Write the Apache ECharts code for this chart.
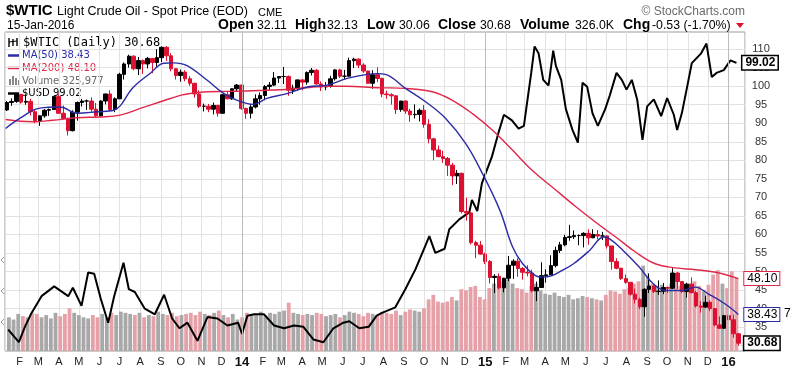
<!DOCTYPE html>
<html><head><meta charset="utf-8">
<script src="https://cdn.jsdelivr.net/npm/echarts@6/dist/echarts.min.js"></script>
<style>html,body{margin:0;padding:0;background:#fff}#c{width:800px;height:369px}</style>
</head><body><div id="c"></div>
<script>
// ---- DATA (weekly bars, Wednesday of each week, starting 16-Jan-2013) ----
const firstWeek = [2013, 0, 16];
const opens = [
93.6,95.6,95.9,97.8,95.7,95.9,93.1,90.7,92.0,93.5,93.7,97.2,92.7,91.3,88.0,93.0,95.6,96.0,96.0,93.8,92.0,96.0,97.9,93.7,96.6,103.2,106.0,108.1,104.7,106.9,106.0,107.5,106.4,107.7,110.5,108.2,104.7,102.9,103.8,102.0,100.8,97.9,94.6,94.6,93.8,94.8,92.7,97.7,96.6,99.3,100.3,
94.0,92.7,94.4,96.6,97.5,99.9,100.3,102.2,102.6,102.6,98.9,99.5,101.7,101.1,103.7,104.3,100.6,99.8,100.0,102.0,104.4,102.7,102.7,106.9,107.3,105.7,104.1,100.8,103.1,102.1,97.9,97.7,97.4,93.7,96.0,93.3,92.3,92.4,93.5,89.7,85.8,82.8,81.0,80.5,78.7,75.8,76.5,66.2,65.8,57.8,57.1,54.7,
52.7,48.4,48.7,45.6,48.2,51.7,52.8,50.8,49.8,49.6,44.8,45.7,48.9,49.1,51.6,55.7,57.2,59.2,59.4,59.7,59.7,60.3,59.1,60.0,59.6,59.6,56.9,52.7,50.9,48.1,47.1,43.9,42.5,40.5,45.2,46.1,44.6,44.7,45.7,45.5,49.6,47.3,44.6,46.6,44.3,40.7,40.4,41.7,40.0,35.6,34.7,38.1,
37.0,33.2];
const highs = [
96.0,96.7,98.2,97.9,97.8,96.6,93.6,92.2,93.8,94.0,97.4,97.8,94.8,91.5,93.5,95.9,96.6,96.4,97.0,95.5,96.2,98.0,98.9,97.0,103.6,106.4,108.5,108.3,107.9,107.2,107.9,107.5,110.0,110.7,110.8,108.9,104.9,104.5,104.3,102.7,100.9,98.9,95.3,95.2,95.6,95.0,97.9,98.6,99.4,100.6,100.4,
94.2,94.9,97.8,98.3,100.3,101.1,103.8,102.6,105.2,102.9,100.4,101.8,101.9,104.0,104.9,104.6,101.3,101.1,102.8,104.6,104.7,104.4,107.7,107.7,107.5,106.2,104.1,104.3,105.1,102.3,98.8,98.1,97.6,96.0,96.1,93.9,95.1,94.0,94.9,91.1,86.1,84.0,82.6,80.9,79.3,77.4,76.7,69.9,66.0,58.3,58.2,55.1,
53.1,49.3,49.5,48.3,54.2,53.3,53.6,51.2,51.7,50.5,47.3,52.5,50.6,54.4,56.7,58.0,59.9,62.6,61.1,60.0,60.6,61.4,61.4,61.2,60.7,59.7,56.9,53.6,51.0,49.2,47.1,45.4,42.9,45.5,49.5,46.3,47.6,46.9,46.0,50.9,49.9,47.4,47.0,48.4,44.8,42.0,43.5,42.2,40.0,37.9,38.3,38.4,
38.4,33.3];
const lows = [
93.3,94.7,95.5,95.3,95.0,92.1,90.0,89.3,91.5,92.0,93.6,92.5,91.0,86.7,87.8,90.7,94.5,93.6,93.0,91.5,91.8,95.1,93.3,93.0,96.5,101.8,105.0,104.3,103.0,103.3,104.8,103.5,105.0,106.5,106.8,104.0,101.8,101.2,101.3,100.1,96.9,94.1,93.2,93.0,92.4,91.8,92.5,96.5,96.3,98.7,93.6,
91.2,91.3,94.0,95.0,96.2,99.0,100.0,100.9,100.6,97.4,97.9,99.0,98.9,100.4,102.9,100.5,98.7,98.9,99.6,101.5,102.2,101.9,102.6,104.9,104.9,103.6,100.7,99.3,101.1,97.0,96.6,95.0,92.5,93.1,92.5,90.4,91.3,90.5,88.8,84.6,80.0,80.8,79.3,75.8,73.3,73.6,65.7,63.7,57.3,53.6,54.5,52.0,
46.8,44.2,45.2,44.4,47.4,48.0,48.6,47.8,48.7,44.4,42.0,45.7,47.0,49.1,51.1,55.0,56.8,58.3,58.8,57.1,56.5,57.2,59.0,58.7,58.5,56.2,50.5,50.6,47.7,46.7,43.5,41.4,39.9,37.8,44.2,44.2,43.7,43.9,44.2,45.3,45.3,44.2,43.0,44.1,40.3,38.9,40.2,39.3,35.2,34.5,34.5,36.0,
32.1,30.0];
const closes = [
95.6,95.9,97.8,95.7,95.9,93.1,90.7,92.0,93.5,93.7,97.2,92.7,91.3,88.0,93.0,95.6,96.0,96.0,93.8,92.0,96.0,97.9,93.7,96.6,103.2,106.0,108.1,104.7,106.9,106.0,107.5,106.4,107.7,110.5,108.2,104.7,102.9,103.8,102.0,100.8,97.9,94.6,94.6,93.8,94.8,92.7,97.7,96.6,99.3,100.3,94.0,
92.7,94.4,96.6,97.5,99.9,100.3,102.2,102.6,102.6,98.9,99.5,101.7,101.1,103.7,104.3,100.6,99.8,100.0,102.0,104.4,102.7,102.7,106.9,107.3,105.7,104.1,100.8,103.1,102.1,97.9,97.7,97.4,93.7,96.0,93.3,92.3,92.4,93.5,89.7,85.8,82.8,81.0,80.5,78.7,75.8,76.5,66.2,65.8,57.8,57.1,54.7,52.7,
48.4,48.7,45.6,48.2,51.7,52.8,50.8,49.8,49.6,44.8,45.7,48.9,49.1,51.6,55.7,57.2,59.2,59.4,59.7,59.7,60.3,59.1,60.0,59.6,59.6,56.9,52.7,50.9,48.1,47.1,43.9,42.5,40.5,45.2,46.1,44.6,44.7,45.7,45.5,49.6,47.3,44.6,46.6,44.3,40.7,40.4,41.7,40.0,35.6,34.7,38.1,37.0,
33.2,30.68];
const volumes = [ // thousands
150,140,165,155,150,170,165,150,160,145,170,155,165,190,170,160,150,145,160,150,165,150,170,160,175,170,165,160,170,150,160,155,175,165,160,170,155,160,165,170,160,175,165,160,170,180,160,150,165,140,150,
170,160,165,175,160,170,165,175,180,215,170,165,160,165,160,170,165,155,160,165,150,160,175,170,165,155,170,165,160,175,170,165,180,160,175,185,180,175,190,230,250,220,215,220,240,225,275,270,285,290,240,230,
280,300,290,310,320,300,280,275,260,290,300,270,255,250,260,245,240,250,230,235,245,240,235,230,225,250,270,265,255,275,280,300,310,380,330,300,290,295,285,300,310,290,295,300,310,290,270,295,340,360,300,280,
355,326];
const ma50 = [
['2013-01-14',88.6],['2013-02-04',91.3],['2013-03-06',94.1],['2013-04-05',94.4],['2013-05-01',92.7],['2013-05-31',93.1],['2013-06-24',93.5],['2013-07-24',99.8],['2013-08-18',103.5],['2013-09-07',106.2],['2013-09-22',106.3],['2013-10-11',105.6],['2013-11-11',101.6],['2013-12-06',98.0],['2013-12-26',96.2],
['2014-01-19',95.1],['2014-02-08',96.7],['2014-03-10',98.0],['2014-04-09',99.8],['2014-05-09',100.3],['2014-06-08',102.1],['2014-07-08',103.2],['2014-07-23',103.4],['2014-08-04',103.2],['2014-09-03',99.4],['2014-10-03',95.8],['2014-11-02',91.3],['2014-12-02',84.5],['2014-12-27',76.4],
['2015-01-22',66.5],['2015-02-10',56.6],['2015-02-25',52.1],['2015-03-16',48.9],['2015-03-26',48.5],['2015-04-10',48.9],['2015-04-25',50.3],['2015-05-12',52.1],['2015-06-05',55.7],['2015-06-26',59.3],['2015-07-05',58.8],['2015-07-25',55.7],['2015-08-18',51.2],['2015-09-08',46.7],['2015-09-27',44.9],['2015-10-22',44.9],['2015-11-10',45.8],['2015-11-29',44.0],['2015-12-24',41.3],['2016-01-13',38.43]];
const ma200 = [
['2013-01-14',91.0],['2013-02-24',90.4],['2013-03-25',90.8],['2013-05-01',91.5],['2013-06-04',91.7],['2013-07-04',92.2],['2013-08-03',94.0],['2013-09-02',95.8],['2013-10-03',97.6],['2013-10-15',98.0],['2013-11-11',98.5],['2013-12-11',98.6],
['2014-01-08',98.7],['2014-02-07',98.9],['2014-03-09',99.1],['2014-04-08',99.6],['2014-05-08',100.0],['2014-06-07',100.0],['2014-07-23',99.6],['2014-09-03',99.4],['2014-10-13',98.5],['2014-11-12',96.2],['2014-12-12',92.6],
['2015-01-11',88.1],['2015-02-10',82.7],['2015-03-11',77.3],['2015-04-10',72.8],['2015-05-16',67.4],['2015-06-14',63.3],['2015-07-14',59.3],['2015-08-13',55.2],['2015-09-11',52.1],['2015-10-11',51.0],['2015-11-10',50.5],['2015-12-10',49.8],['2016-01-13',48.10]];
const usd = [
['2013-01-15',79.9],['2013-01-31',79.0],['2013-02-09',80.1],['2013-02-19',81.1],['2013-03-06',82.3],['2013-03-25',83.0],['2013-04-15',82.3],['2013-04-22',82.9],['2013-05-05',81.6],['2013-05-15',84.0],['2013-05-24',83.9],['2013-06-03',82.1],['2013-06-14',80.4],['2013-06-23',82.3],['2013-07-07',84.7],['2013-07-15',82.8],['2013-07-24',82.6],['2013-08-08',81.4],['2013-08-23',81.0],['2013-09-06',82.4],['2013-09-18',80.7],['2013-09-29',80.0],['2013-10-11',80.4],['2013-10-26',79.1],['2013-11-10',80.8],['2013-11-25',80.7],['2013-12-10',80.2],['2013-12-26',80.4],
['2014-01-01',79.6],['2014-01-09',80.9],['2014-01-19',81.0],['2014-02-03',81.0],['2014-02-18',80.2],['2014-03-05',80.0],['2014-03-20',80.2],['2014-04-03',80.1],['2014-04-18',79.2],['2014-05-03',79.0],['2014-05-18',80.0],['2014-06-02',80.4],['2014-06-11',80.5],['2014-06-26',80.0],['2014-07-10',80.1],['2014-07-22',80.9],['2014-07-30',81.1],['2014-08-19',81.5],['2014-09-03',82.8],['2014-09-18',84.2],['2014-10-03',85.9],['2014-10-09',86.6],['2014-10-18',85.4],['2014-11-01',85.7],['2014-11-08',87.1],['2014-11-23',87.8],['2014-12-08',88.3],['2014-12-12',89.2],['2014-12-20',88.4],['2014-12-27',90.4],
['2015-01-11',92.3],['2015-01-22',94.2],['2015-01-29',95.3],['2015-02-10',94.9],['2015-02-20',94.3],['2015-02-28',94.5],['2015-03-04',95.9],['2015-03-11',98.3],['2015-03-16',100.2],['2015-03-22',99.7],['2015-03-29',97.8],['2015-04-06',97.4],['2015-04-13',99.9],['2015-04-17',98.8],['2015-04-25',97.8],['2015-05-02',95.7],['2015-05-12',94.2],['2015-05-20',93.3],['2015-05-27',97.6],['2015-06-03',97.3],['2015-06-11',95.4],['2015-06-19',94.5],['2015-06-30',95.7],['2015-07-07',96.7],['2015-07-17',98.3],['2015-07-25',97.8],['2015-08-01',97.1],['2015-08-09',97.8],['2015-08-17',96.4],['2015-08-25',93.5],['2015-09-01',95.9],['2015-09-11',96.4],['2015-09-22',95.2],['2015-10-01',96.5],['2015-10-11',95.3],['2015-10-16',94.2],['2015-10-23',95.4],['2015-10-31',97.3],['2015-11-07',99.0],['2015-11-21',99.7],['2015-11-29',100.4],['2015-12-07',98.0],['2015-12-14',98.3],['2015-12-25',98.5],['2016-01-04',99.2],['2016-01-13',99.02]];
const monthLetters = ['J','F','M','A','M','J','J','A','S','O','N','D'];
const yearLines = ['2014-01-01','2015-01-01','2016-01-01'];
const header = {symbol:'$WTIC', name:'Light Crude Oil - Spot Price (EOD)', exch:'CME', date:'15-Jan-2016'};
const quote = [['Open','32.11'],['High','32.13'],['Low','30.06'],['Close','30.68'],['Volume','326.0K'],['Chg','-0.53 (-1.70%)']];
const legendTexts = {price:'$WTIC (Daily) 30.68', ma50:'MA(50) 38.43', ma200:'MA(200) 48.10', vol:'Volume 325,977', usd:'$USD 99.02'};

// ---- BUILD ----
const weeks = closes.map((_, i) => +new Date(firstWeek[0], firstWeek[1], firstWeek[2] + 7 * i));
const candleData = weeks.map((t, i) => [t, opens[i], closes[i], lows[i], highs[i]]);
const UP = '#000000', DOWN = '#dc1030';
const volData = weeks.map((t, i) => ({value: [t, volumes[i]], itemStyle: {color: closes[i] >= opens[i] ? '#a8a8a8' : '#e6a0a7'}}));
const closeLine = weeks.map((t, i) => [t, closes[i]]);
const xMin = +new Date(2013, 0, 13), xMax = +new Date(2016, 0, 23);
const BLUE = '#2b2ba6', RED = '#e0284a';
const FONT = '"Liberation Sans", Arial, sans-serif';

function tag(color, bold) {
  return {show: true, distance: 6, color: '#000', fontFamily: FONT, fontSize: 12, fontWeight: bold ? 'bold' : 'normal',
    backgroundColor: '#fff', borderColor: color, borderWidth: bold ? 1.5 : 1, padding: [1, 2, 0, 3],
    formatter: p => p.value[1].toFixed(2)};
}

// quote line pieces (label bold, value regular), laid out left to right
const quoteX = [218, 257, 295, 327, 367, 399, 438, 480, 520, 575, 623, 652];
const quoteGraphics = [];
quote.forEach((q, i) => {
  quoteGraphics.push({type: 'text', x: quoteX[2 * i], y: 25.5, style: {text: q[0], font: 'bold 14px ' + FONT, fill: '#000', verticalAlign: 'middle'}});
  quoteGraphics.push({type: 'text', x: quoteX[2 * i + 1], y: 26, style: {text: q[1], font: '12.3px ' + FONT, fill: '#000', verticalAlign: 'middle'}});
});

const chart = echarts.init(document.getElementById('c'), null, {renderer: 'canvas'});
const option = {
  animation: false,
  backgroundColor: '#fff',
  grid: [
    {left: 5, right: 55, top: 30.6, height: 333.6},
    {left: 5, right: 55, top: 32, bottom: 17, show: true, borderColor: '#9a9a9a', borderWidth: 1, backgroundColor: 'transparent'}
  ],
  xAxis: [
    {type: 'time', gridIndex: 0, min: xMin, max: xMax, show: false},
    {type: 'time', gridIndex: 1, min: xMin, max: xMax, minInterval: 28 * 864e5, maxInterval: 31 * 864e5,
      axisLine: {show: false}, axisTick: {show: false},
      splitLine: {show: true, lineStyle: {color: '#e2e2e2', width: 1}},
      axisLabel: {margin: 5, fontFamily: FONT, fontSize: 11, color: '#222', hideOverlap: false,
        formatter: v => { const d = new Date(v); const m = d.getMonth();
          return m === 0 ? '{y|' + String(d.getFullYear()).slice(2) + '}' : monthLetters[m]; },
        rich: {y: {fontFamily: FONT, fontSize: 13, fontWeight: 'bold', color: '#111'}}}}
  ],
  yAxis: [
    {type: 'value', gridIndex: 0, position: 'right', min: 25, max: 115, interval: 5,
      axisLine: {show: false}, axisTick: {show: false},
      splitLine: {show: true, showMinLine: false, showMaxLine: false, lineStyle: {color: '#e2e2e2'}},
      axisLabel: {showMinLabel: false, showMaxLabel: false, align: 'center', margin: 16, fontFamily: FONT, fontSize: 11, color: '#333'}},
    {type: 'value', gridIndex: 1, min: 0, max: 1420, show: false},
    {type: 'value', gridIndex: 1, min: 78.37, max: 101.23, show: false}
  ],
  series: [
    {type: 'bar', name: 'Volume', xAxisIndex: 1, yAxisIndex: 1, data: volData, barWidth: 3.8, z: 1,
      markLine: {silent: true, symbol: 'none', label: {show: false},
        lineStyle: {color: '#bcbcbc', type: 'solid', width: 1},
        data: yearLines.map(d => ({xAxis: +new Date(d + 'T00:00:00')}))}},
    {type: 'line', name: '$USD', xAxisIndex: 1, yAxisIndex: 2, data: usd, showSymbol: false, z: 3,
      lineStyle: {color: '#000', width: 2}, endLabel: tag('#000', true)},
    {type: 'candlestick', name: '$WTIC', xAxisIndex: 0, yAxisIndex: 0, data: candleData, barWidth: 4, z: 4,
      itemStyle: {color: UP, color0: DOWN, borderColor: UP, borderColor0: DOWN, borderWidth: 1}},
    {type: 'line', name: 'MA(200)', xAxisIndex: 0, yAxisIndex: 0, data: ma200, showSymbol: false, smooth: 0.4, z: 5,
      lineStyle: {color: RED, width: 1.4}, endLabel: tag(RED, false)},
    {type: 'line', name: 'MA(50)', xAxisIndex: 0, yAxisIndex: 0, data: ma50, showSymbol: false, smooth: 0.4, z: 5,
      lineStyle: {color: BLUE, width: 1.4}, endLabel: tag(BLUE, false)},
    {type: 'line', name: 'Close', xAxisIndex: 0, yAxisIndex: 0, data: closeLine, showSymbol: false, z: 6,
      lineStyle: {opacity: 0}, endLabel: tag('#000', true)}
  ],
  graphic: [
    {type: 'text', x: 6, y: 11, style: {text: header.symbol, font: 'bold 15px ' + FONT, fill: '#000', verticalAlign: 'middle'}},
    {type: 'text', x: 57, y: 12, style: {text: header.name, font: '12.5px ' + FONT, fill: '#000', verticalAlign: 'middle'}},
    {type: 'text', x: 258, y: 12.5, style: {text: header.exch, font: '11px ' + FONT, fill: '#000', verticalAlign: 'middle'}},
    {type: 'text', x: 7, y: 26, style: {text: header.date, font: '12px ' + FONT, fill: '#000', verticalAlign: 'middle'}},
    ...quoteGraphics,
    {type: 'polygon', shape: {points: [[736, 23], [744, 23], [740, 28]]}, style: {fill: '#e0102c'}},
    {type: 'text', x: 745, y: 11.5, style: {text: '\u00A9 StockCharts.com', font: '12px ' + FONT, fill: '#6a6a6a', align: 'right', verticalAlign: 'middle'}},
    {type: 'text', x: 784, y: 314, style: {text: '7', font: '12px ' + FONT, fill: '#000', verticalAlign: 'middle'}},
    {type: 'polyline', shape: {points: [[4, 257], [1, 260], [4, 263]]}, style: {stroke: '#999', lineWidth: 1, fill: null}},
    {type: 'polyline', shape: {points: [[4, 288], [1, 291], [4, 294]]}, style: {stroke: '#999', lineWidth: 1, fill: null}},
    {type: 'polyline', shape: {points: [[4, 319], [1, 322], [4, 325]]}, style: {stroke: '#999', lineWidth: 1, fill: null}},
    // in-plot legend
    {type: 'group', x: 0, y: 0, children: [
      {type: 'line', shape: {x1: 9, y1: 38, x2: 9, y2: 47}, style: {stroke: '#000', lineWidth: 1.4}},
      {type: 'line', shape: {x1: 13, y1: 39, x2: 13, y2: 46}, style: {stroke: '#000', lineWidth: 1.4}},
      {type: 'line', shape: {x1: 17, y1: 38, x2: 17, y2: 46}, style: {stroke: '#000', lineWidth: 1.4}},
      {type: 'line', shape: {x1: 9, y1: 42, x2: 17, y2: 41}, style: {stroke: '#000', lineWidth: 1}},
      {type: 'text', x: 23, y: 43, style: {text: legendTexts.price, font: '12px "DejaVu Sans Mono", monospace', fill: '#000', verticalAlign: 'middle'}},
      {type: 'line', shape: {x1: 8, y1: 55.5, x2: 20, y2: 55.5}, style: {stroke: BLUE, lineWidth: 2.5}},
      {type: 'text', x: 22, y: 55.5, style: {text: legendTexts.ma50, font: '10px "DejaVu Sans", sans-serif', fill: BLUE, verticalAlign: 'middle'}},
      {type: 'line', shape: {x1: 8, y1: 68, x2: 20, y2: 68}, style: {stroke: RED, lineWidth: 2.5}},
      {type: 'text', x: 22, y: 68, style: {text: legendTexts.ma200, font: '10px "DejaVu Sans", sans-serif', fill: RED, verticalAlign: 'middle'}},
      {type: 'rect', shape: {x: 9, y: 79, width: 2, height: 6}, style: {fill: '#888'}},
      {type: 'rect', shape: {x: 12, y: 76, width: 2, height: 9}, style: {fill: '#888'}},
      {type: 'rect', shape: {x: 15, y: 78, width: 2, height: 7}, style: {fill: '#888'}},
      {type: 'rect', shape: {x: 18, y: 80, width: 2, height: 5}, style: {fill: '#888'}},
      {type: 'text', x: 22, y: 81, style: {text: legendTexts.vol, font: '10px "DejaVu Sans", sans-serif', fill: '#666', verticalAlign: 'middle'}},
      {type: 'line', shape: {x1: 8, y1: 93.5, x2: 20, y2: 93.5}, style: {stroke: '#000', lineWidth: 2.5}},
      {type: 'text', x: 22, y: 93.5, style: {text: legendTexts.usd, font: '10px "DejaVu Sans", sans-serif', fill: '#000', verticalAlign: 'middle'}}
    ]}
  ]
};
chart.setOption(option);
</script></body></html>
